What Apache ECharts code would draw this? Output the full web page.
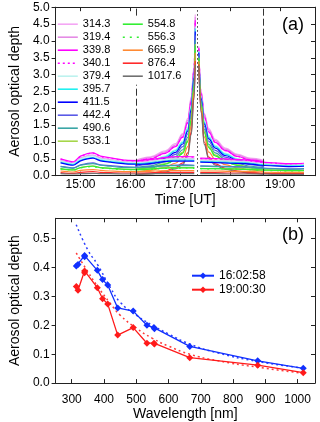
<!DOCTYPE html>
<html>
<head>
<meta charset="utf-8">
<script src="https://cdn.jsdelivr.net/npm/echarts@6/dist/echarts.min.js"></script>
<style>
html, body {margin:0; padding:0; background:#fff;}
#chart {width:320px; height:422px;}
</style>
</head>
<body>
<div id="chart"></div>
<script>
// panel (a): wavelengths shown in legend
var wavelengths = ['314.3','319.4','339.8','340.1','379.4','395.7','411.5','442.4','490.6','533.1','554.8','556.3','665.9','876.4','1017.6'];

// background AOD, time in hours UT (null = gap)
var baseTimes = [14.6,14.75,14.85,15.0,15.25,15.4,15.6,15.9,16.2,16.5,16.8,17.1,17.28,17.34,17.4,17.7,18.0,18.3,18.6,18.9,19.2,19.48];
var b314 = [0.46,0.40,0.37,0.53,0.62,0.53,0.48,0.42,0.41,0.46,0.51,0.52,0.51,null,0.47,0.46,0.45,0.43,0.37,0.34,0.33,0.34];
var b319 = [0.44,0.39,0.36,0.51,0.60,0.51,0.47,0.40,0.40,0.44,0.49,0.50,0.49,null,0.46,0.45,0.43,0.41,0.36,0.33,0.32,0.33];
var b339 = [0.50,0.44,0.41,0.58,0.68,0.58,0.53,0.46,0.45,0.50,0.56,0.57,0.56,null,0.52,0.51,0.49,0.47,0.41,0.38,0.36,0.37];
var b340 = [0.49,0.43,0.40,0.57,0.67,0.57,0.52,0.45,0.44,0.49,0.55,0.56,0.55,null,0.51,0.50,0.48,0.46,0.40,0.37,0.35,0.36];
var b379 = [0.44,0.38,0.36,0.50,0.59,0.50,0.46,0.40,0.39,0.44,0.49,0.50,0.49,null,0.45,0.44,0.43,0.41,0.36,0.33,0.31,0.32];
var b395 = [0.40,0.35,0.33,0.46,0.54,0.46,0.42,0.37,0.36,0.40,0.45,0.46,0.45,null,0.42,0.41,0.39,0.38,0.33,0.30,0.29,0.30];
var b411 = [0.38,0.33,0.31,0.44,0.52,0.44,0.40,0.35,0.34,0.38,0.43,0.43,0.43,null,0.40,0.39,0.37,0.36,0.31,0.29,0.27,0.28];
var b442 = [0.28,0.25,0.23,0.32,0.38,0.32,0.30,0.26,0.25,0.28,0.31,0.32,0.31,null,0.29,0.28,0.27,0.26,0.23,0.21,0.20,0.21];
var b490 = [0.27,0.23,0.22,0.31,0.36,0.31,0.28,0.24,0.24,0.27,0.30,0.30,0.30,null,0.28,0.27,0.26,0.25,0.22,0.20,0.19,0.20];
var b533 = [0.21,0.18,0.17,0.24,0.29,0.24,0.22,0.19,0.19,0.21,0.24,0.24,0.24,null,0.22,0.21,0.21,0.20,0.17,0.16,0.15,0.16];
var b554 = [0.20,0.18,0.17,0.24,0.28,0.24,0.22,0.19,0.18,0.21,0.23,0.23,0.23,null,0.21,0.21,0.20,0.19,0.17,0.16,0.15,0.15];
var b556 = [0.20,0.18,0.16,0.23,0.27,0.23,0.21,0.18,0.18,0.20,0.22,0.23,0.22,null,0.21,0.20,0.20,0.19,0.16,0.15,0.14,0.15];
var b665 = [0.14,0.12,0.11,0.16,0.18,0.16,0.14,0.12,0.12,0.14,0.15,0.15,0.15,null,0.14,0.14,0.13,0.13,0.11,0.10,0.10,0.10];
var b876 = [0.09,0.07,0.07,0.10,0.12,0.10,0.09,0.08,0.08,0.09,0.10,0.10,0.10,null,0.09,0.09,0.08,0.08,0.07,0.06,0.06,0.06];
var b1017 = [0.06,0.05,0.05,0.06,0.07,0.06,0.06,0.05,0.05,0.06,0.06,0.06,0.06,null,0.06,0.06,0.05,0.05,0.05,0.04,0.04,0.04];

// the spike around 17:20 UT
var peakTimes = [16.1,16.4,16.7,16.9,17.05,17.15,17.22,17.27,17.3,17.335,17.37,17.42,17.48,17.57,17.7,17.9,18.15,18.4,18.68];
var p314 = [0.45,0.56,0.74,0.95,1.25,1.70,2.35,3.20,4.78,null,3.84,2.50,1.85,1.40,1.08,0.82,0.63,0.52,0.45];
var p319 = [0.43,0.54,0.71,0.91,1.21,1.65,2.30,3.15,4.71,null,3.81,2.47,1.81,1.36,1.04,0.79,0.61,0.50,0.43];
var p339 = [0.40,0.50,0.67,0.86,1.15,1.58,2.22,3.09,4.61,null,3.78,2.43,1.75,1.30,0.99,0.75,0.57,0.47,0.40];
var p340 = [0.40,0.50,0.66,0.86,1.14,1.57,2.21,3.08,4.60,null,3.77,2.42,1.74,1.29,0.99,0.74,0.57,0.46,0.40];
var p379 = [0.35,0.44,0.59,0.77,1.03,1.44,2.09,2.97,4.43,null,3.70,2.35,1.64,1.19,0.90,0.67,0.51,0.41,0.35];
var p395 = [0.33,0.41,0.56,0.74,0.99,1.39,2.03,2.93,4.37,null,3.68,2.32,1.59,1.14,0.86,0.64,0.48,0.39,0.33];
var p411 = [0.30,0.38,0.52,0.69,0.94,1.33,1.97,2.88,4.28,null,3.65,2.28,1.54,1.09,0.82,0.60,0.45,0.37,0.31];
var p442 = [0.27,0.34,0.47,0.63,0.86,1.24,1.88,2.79,4.16,null,3.60,2.23,1.47,1.02,0.75,0.55,0.41,0.33,0.27];
var p490 = [0.22,0.29,0.41,0.56,0.77,1.14,1.77,2.70,4.02,null,3.54,2.17,1.38,0.93,0.68,0.49,0.36,0.28,0.23];
var p533 = [0.19,0.25,0.36,0.50,0.70,1.06,1.69,2.63,3.91,null,3.50,2.12,1.31,0.86,0.62,0.44,0.32,0.25,0.20];
var p554 = [0.18,0.23,0.34,0.47,0.67,1.02,1.65,2.60,3.86,null,3.48,2.10,1.28,0.83,0.59,0.42,0.30,0.23,0.18];
var p556 = [0.17,0.23,0.33,0.47,0.66,1.01,1.64,2.59,3.84,null,3.47,2.09,1.27,0.82,0.58,0.41,0.30,0.23,0.18];
var p665 = [0.11,0.16,0.25,0.37,0.54,0.86,1.49,2.46,3.65,null,3.40,2.01,1.15,0.70,0.48,0.33,0.23,0.17,0.12];
var p876 = [0.04,0.07,0.14,0.24,0.38,0.68,1.30,2.30,3.40,null,3.30,1.90,1.00,0.55,0.35,0.22,0.14,0.09,0.05];
var p1017 = [0.03,0.05,0.11,0.20,0.33,0.60,1.22,2.23,3.29,null,3.26,1.85,0.93,0.50,0.31,0.19,0.12,0.07,0.04];

var hourTicks = [15,16,17,18,19];
var aodTicksA = [0,0.5,1,1.5,2,2.5,3,3.5,4,4.5,5];
// event markers (hours UT)
var startTime = 16.114, endTime = 18.66, peakTime = 17.333;

// panel (b): spectra
var specWl = [314.3,319.4,339.8,340.1,379.4,395.7,411.5,442.4,490.6,533.1,554.8,556.3,665.9,876.4,1017.6];
var aod160258 = [0.405,0.41,0.441,0.437,0.39,0.358,0.339,0.26,0.249,0.2,0.192,0.188,0.127,0.077,0.051];
var aod190030 = [0.334,0.321,0.388,0.382,0.33,0.292,0.274,0.166,0.192,0.138,0.138,0.135,0.088,0.062,0.036];
var fitWl = [314,350,380,420,450,500,550,600,666,750,876,1018];
var fit160258 = [0.548,0.46,0.41,0.33,0.28,0.235,0.2,0.17,0.135,0.105,0.075,0.052];
var fit190030 = [0.45,0.385,0.335,0.275,0.235,0.19,0.155,0.128,0.1,0.078,0.055,0.034];
var wlTicks = [300,400,500,600,700,800,900,1000];
var aodTicksB = [0,0.1,0.2,0.3,0.4,0.5];

var baseSets = [b314,b319,b339,b340,b379,b395,b411,b442,b490,b533,b554,b556,b665,b876,b1017];
var peakSets = [p314,p319,p339,p340,p379,p395,p411,p442,p490,p533,p554,p556,p665,p876,p1017];

var colors = ['#f4a6f4','#e58be5','#ff00ff','#ff00ff','#bdf2ee','#20f0f0','#0000ff','#5a5ae6',
              '#3aa6a6','#a6d64a','#33ee33','#33ee33','#ff8a33','#ff2a2a','#707070'];
var dashes = {'340.1': [2,3], '556.3': [2,5]};

var FONT = 'Liberation Sans, Arial, sans-serif';
var AXIS = '#222';

function pairs(xs, ys){
    return xs.map(function(x, i){ return [x, ys[i] == null ? '-' : ys[i]]; });
}

var myChart = echarts.init(document.getElementById('chart'));

var series = [];

// spike curves first, background lines on top
wavelengths.forEach(function(name, i){
    series.push({
        name: name, type: 'line', xAxisIndex: 0, yAxisIndex: 0,
        data: pairs(peakTimes, peakSets[i]),
        symbol: 'none', smooth: 0.4, smoothMonotone: 'x',
        lineStyle: {color: colors[i], width: 1.2, type: dashes[name] || 'solid'},
        itemStyle: {color: colors[i]}
    });
});
wavelengths.forEach(function(name, i){
    series.push({
        name: name, type: 'line', xAxisIndex: 0, yAxisIndex: 0,
        data: pairs(baseTimes, baseSets[i]),
        symbol: 'none', smooth: 0.3,
        lineStyle: {color: colors[i], width: 1.2, type: dashes[name] || 'solid'},
        itemStyle: {color: colors[i]}
    });
});

//竖线：开始、结束、峰值
series.push({
    type: 'line', xAxisIndex: 0, yAxisIndex: 0, data: [],
    markLine: {
        silent: true, symbol: 'none', label: {show: false},
        lineStyle: {color: '#333', width: 1, type: [7,3]},
        data: [
            [{coord: [startTime, 0]}, {coord: [startTime, 2.7]}],
            [{coord: [startTime, 4.75]}, {coord: [startTime, 5]}],
            [{coord: [endTime, 0]}, {coord: [endTime, 5]}],
            [{coord: [peakTime, 0], lineStyle: {type: [1.5,2.5], color: '#333'}}, {coord: [peakTime, 5]}]
        ]
    }
});

// panel (b)
series.push({
    name: 'fit 16:02:58', type: 'line', xAxisIndex: 2, yAxisIndex: 2,
    data: pairs(fitWl, fit160258), symbol: 'none', smooth: true,
    lineStyle: {color: '#2a3cff', width: 1.5, type: [2,3]}
});
series.push({
    name: 'fit 19:00:30', type: 'line', xAxisIndex: 2, yAxisIndex: 2,
    data: pairs(fitWl, fit190030), symbol: 'none', smooth: true,
    lineStyle: {color: '#ff3a3a', width: 1.5, type: [2,3]}
});
series.push({
    name: '16:02:58', type: 'line', xAxisIndex: 2, yAxisIndex: 2,
    data: pairs(specWl, aod160258), symbol: 'diamond', symbolSize: 7,
    lineStyle: {color: '#1030ff', width: 1.3}, itemStyle: {color: '#1030ff'}
});
series.push({
    name: '19:00:30', type: 'line', xAxisIndex: 2, yAxisIndex: 2,
    data: pairs(specWl, aod190030), symbol: 'diamond', symbolSize: 7,
    lineStyle: {color: '#ff1a1a', width: 1.3}, itemStyle: {color: '#ff1a1a'}
});

function frameAxis(grid, pos, min, max, ticks, extra){
    var ax = {
        gridIndex: grid, type: 'value', position: pos, min: min, max: max,
        axisLine: {show: true, onZero: false, lineStyle: {color: AXIS, width: 1}},
        axisTick: {show: true, inside: true, length: 4, customValues: ticks, lineStyle: {color: AXIS}},
        axisLabel: {show: false},
        splitLine: {show: false}
    };
    for (var k in extra) ax[k] = extra[k];
    return ax;
}

var nameStyle = {fontFamily: FONT, fontSize: 14, color: '#000'};

option = {
    animation: false,
    backgroundColor: '#fff',
    textStyle: {fontFamily: FONT},
    grid: [
        {left: 46.7, right: 5, top: 7.2, height: 168.5},
        {left: 46.7, right: 5, top: 218.3, height: 168.4}
    ],
    xAxis: [
        frameAxis(0, 'bottom', 14.5, 19.7, hourTicks, {
            axisLabel: {show: true, customValues: hourTicks, margin: 3,
                formatter: function(v){ return v + ':00'; }, fontFamily: FONT, fontSize: 12, color: '#000'},
            name: 'Time [UT]', nameLocation: 'middle', nameGap: 17, nameTextStyle: nameStyle
        }),
        frameAxis(0, 'top', 14.5, 19.7, hourTicks, {}),
        frameAxis(1, 'bottom', 250, 1054, wlTicks, {
            axisLabel: {show: true, customValues: wlTicks, margin: 11,
                formatter: function(v){ return String(v); }, fontFamily: FONT, fontSize: 12, color: '#000'},
            name: 'Wavelength [nm]', nameLocation: 'middle', nameGap: 20, nameTextStyle: nameStyle
        }),
        frameAxis(1, 'top', 250, 1054, wlTicks, {})
    ],
    yAxis: [
        frameAxis(0, 'left', 0, 5, aodTicksA, {
            axisTick: {show: true, inside: false, length: 4, customValues: aodTicksA, lineStyle: {color: AXIS}},
            axisLabel: {show: true, customValues: aodTicksA, margin: 6,
                formatter: function(v){ return v.toFixed(1); }, fontFamily: FONT, fontSize: 12, color: '#000'},
            name: 'Aerosol optical depth', nameLocation: 'middle', nameGap: 30, nameTextStyle: nameStyle
        }),
        frameAxis(0, 'right', 0, 5, aodTicksA, {}),
        frameAxis(1, 'left', 0, 0.57, aodTicksB, {
            axisTick: {show: true, inside: false, length: 4, customValues: aodTicksB, lineStyle: {color: AXIS}},
            axisLabel: {show: true, customValues: aodTicksB, margin: 6,
                formatter: function(v){ return v.toFixed(1); }, fontFamily: FONT, fontSize: 12, color: '#000'},
            name: 'Aerosol optical depth', nameLocation: 'middle', nameGap: 30, nameTextStyle: nameStyle
        }),
        frameAxis(1, 'right', 0, 0.57, aodTicksB, {})
    ],
    legend: [
        {
            data: wavelengths.slice(0, 10), orient: 'vertical', left: 57, top: 17.7,
            padding: 0, itemGap: 0, itemWidth: 20, itemHeight: 13, selectedMode: false,
            itemStyle: {opacity: 0}, lineStyle: {width: 1.6},
            textStyle: {fontFamily: FONT, fontSize: 11, lineHeight: 13, color: '#000'}
        },
        {
            data: wavelengths.slice(10), orient: 'vertical', left: 122, top: 17.7,
            padding: 0, itemGap: 0, itemWidth: 20, itemHeight: 13, selectedMode: false,
            itemStyle: {opacity: 0}, lineStyle: {width: 1.6},
            textStyle: {fontFamily: FONT, fontSize: 11, lineHeight: 13, color: '#000'}
        },
        {
            data: ['16:02:58', '19:00:30'], orient: 'vertical', left: 191, top: 268.7,
            padding: 0, itemGap: 0, itemWidth: 22, itemHeight: 8, selectedMode: false,
            textStyle: {fontFamily: FONT, fontSize: 12, lineHeight: 14, color: '#000'}
        }
    ],
    graphic: [
        {type: 'text', x: 293, y: 25, style: {text: '(a)', fontFamily: FONT, fontSize: 18, fill: '#000', align: 'center', verticalAlign: 'middle'}},
        {type: 'text', x: 293, y: 235, style: {text: '(b)', fontFamily: FONT, fontSize: 18, fill: '#000', align: 'center', verticalAlign: 'middle'}}
    ],
    series: series
};

myChart.setOption(option);
</script>
</body>
</html>
